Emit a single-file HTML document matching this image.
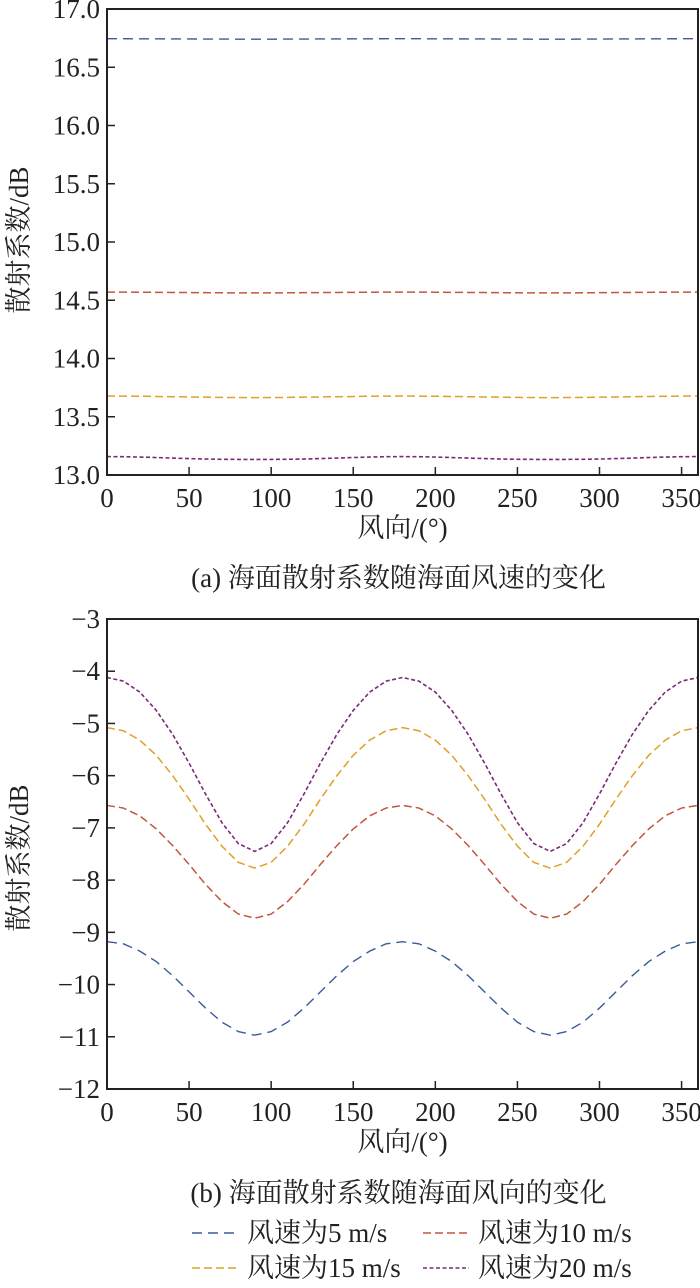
<!DOCTYPE html>
<html><head><meta charset="utf-8">
<style>
html,body{margin:0;padding:0;background:#fff;}
svg text{font-family:"Liberation Serif","Noto Serif CJK SC","Noto Sans CJK SC",serif;fill:#222;}
</style></head>
<body>
<svg id="chart" width="700" height="1283" xmlns="http://www.w3.org/2000/svg"></svg>
<script>
const angles = [0,10,20,30,40,50,60,70,80,90,100,110,120,130,140,150,160,170,180,190,200,210,220,230,240,250,260,270,280,290,300,310,320,330,340,350,360];
const topXTicks = [0,50,100,150,200,250,300,350];
const topYTicks = ["13.0","13.5","14.0","14.5","15.0","15.5","16.0","16.5","17.0"];
const botYTicks = [-12,-11,-10,-9,-8,-7,-6,-5,-4,-3];
const seriesNames = ["风速为5 m/s","风速为10 m/s","风速为15 m/s","风速为20 m/s"];
// (a) top chart values
const topS5  = [16.745,16.745,16.744,16.744,16.743,16.743,16.742,16.742,16.741,16.741,16.741,16.742,16.742,16.743,16.743,16.744,16.744,16.745,16.745,16.745,16.744,16.744,16.743,16.743,16.742,16.742,16.741,16.741,16.741,16.742,16.742,16.743,16.743,16.744,16.744,16.745,16.745];
const topS10 = [14.570,14.570,14.569,14.568,14.567,14.566,14.565,14.564,14.563,14.563,14.563,14.564,14.565,14.566,14.567,14.568,14.569,14.570,14.570,14.570,14.569,14.568,14.567,14.566,14.565,14.564,14.563,14.563,14.563,14.564,14.565,14.566,14.567,14.568,14.569,14.570,14.570];
const topS15 = [13.678,13.677,13.676,13.674,13.672,13.670,13.668,13.666,13.665,13.664,13.665,13.666,13.668,13.670,13.672,13.674,13.676,13.677,13.678,13.677,13.676,13.674,13.672,13.670,13.668,13.666,13.665,13.664,13.665,13.666,13.668,13.670,13.672,13.674,13.676,13.677,13.678];
const topS20 = [13.158,13.157,13.154,13.150,13.145,13.141,13.137,13.135,13.134,13.134,13.134,13.135,13.137,13.141,13.145,13.150,13.154,13.157,13.158,13.157,13.154,13.150,13.145,13.141,13.137,13.135,13.134,13.134,13.134,13.135,13.137,13.141,13.145,13.150,13.154,13.157,13.158];
// (b) bottom chart values
const botS5  = [-9.18,-9.22,-9.36,-9.56,-9.83,-10.14,-10.45,-10.72,-10.90,-10.97,-10.90,-10.72,-10.45,-10.14,-9.83,-9.56,-9.36,-9.22,-9.18,-9.22,-9.36,-9.56,-9.83,-10.14,-10.45,-10.72,-10.90,-10.97,-10.90,-10.72,-10.45,-10.14,-9.83,-9.56,-9.36,-9.22,-9.18];
const botS10 = [-6.57,-6.62,-6.77,-7.02,-7.34,-7.70,-8.08,-8.41,-8.65,-8.73,-8.65,-8.41,-8.08,-7.70,-7.34,-7.02,-6.77,-6.62,-6.57,-6.62,-6.77,-7.02,-7.34,-7.70,-8.08,-8.41,-8.65,-8.73,-8.65,-8.41,-8.08,-7.70,-7.34,-7.02,-6.77,-6.62,-6.57];
const botS15 = [-5.08,-5.14,-5.32,-5.61,-6.00,-6.45,-6.93,-7.35,-7.66,-7.77,-7.66,-7.35,-6.93,-6.45,-6.00,-5.61,-5.32,-5.14,-5.08,-5.14,-5.32,-5.61,-6.00,-6.45,-6.93,-7.35,-7.66,-7.77,-7.66,-7.35,-6.93,-6.45,-6.00,-5.61,-5.32,-5.14,-5.08];
const botS20 = [-4.12,-4.19,-4.40,-4.75,-5.21,-5.76,-6.35,-6.90,-7.30,-7.45,-7.30,-6.90,-6.35,-5.76,-5.21,-4.75,-4.40,-4.19,-4.12,-4.19,-4.40,-4.75,-5.21,-5.76,-6.35,-6.90,-7.30,-7.45,-7.30,-6.90,-6.35,-5.76,-5.21,-4.75,-4.40,-4.19,-4.12];

const NS="http://www.w3.org/2000/svg";
const svg=document.getElementById('chart');
function mk(tag,attrs,parent){const e=document.createElementNS(NS,tag);for(const k in attrs)e.setAttribute(k,attrs[k]);(parent||svg).appendChild(e);return e;}
const styles=[
 {c:"#3b5a9c",d:"10,6",w:1.4},
 {c:"#c0573c",d:"8,4",w:1.5},
 {c:"#e0a027",d:"8,4",w:1.5},
 {c:"#7a2a78",d:"4,2.5",w:1.6}
];
const FS=27;
const L=107,R=698;
function xS(v){return L+(v/360)*(R-L);}

function panel(top,bot,ymin,ymax,yTicks,series,prefix,caption,capY,ytitleY){
  const yS=v=>bot-(v-ymin)/(ymax-ymin)*(bot-top);
  const g=mk('g',{});
  
  
  series.forEach((s,i)=>{
    const d=s.map((v,j)=>(j?'L':'M')+xS(angles[j]).toFixed(2)+','+yS(v).toFixed(2)).join(' ');
    const p=mk('path',{d:d,fill:'none',stroke:styles[i].c,'stroke-width':styles[i].w,'stroke-dasharray':styles[i].d},g);
    
    
  });
  const fr=mk('rect',{x:L,y:top,width:R-L,height:bot-top,fill:'none',stroke:'#222','stroke-width':2},g);
  
  
  topXTicks.forEach(t=>{
    const x=xS(t);
    if(t>0) mk('line',{x1:x,x2:x,y1:bot,y2:bot-8,stroke:'#222','stroke-width':1.5},g);
    const tx=mk('text',{x:x,y:bot+32,'text-anchor':'middle','font-size':FS},g);
    tx.textContent=t;
    
    
  });
  yTicks.forEach(t=>{
    const y=yS(parseFloat(t));
    if(parseFloat(t)>ymin && parseFloat(t)<ymax) mk('line',{x1:L,x2:L+8,y1:y,y2:y,stroke:'#222','stroke-width':1.5},g);
    const tx=mk('text',{x:100,y:y+9,'text-anchor':'end','font-size':FS},g);
    tx.textContent=String(t).replace('-','\u2212');
    
    
  });
  const xt=mk('text',{x:(L+R)/2,y:bot+62,'text-anchor':'middle','font-size':FS},g);
  xt.textContent='风向/(°)';
  
  
  const yt=mk('text',{x:0,y:0,'text-anchor':'middle','font-size':FS,transform:'translate(28,'+ytitleY+') rotate(-90)'},g);
  yt.textContent='散射系数/dB';
  
  
  const cp=mk('text',{x:(L+R)/2-4,y:capY,'text-anchor':'middle','font-size':FS},g);
  cp.textContent=caption;
  
  
}
panel(9,475,13,17,topYTicks,[topS5,topS10,topS15,topS20],'top','(a) 海面散射系数随海面风速的变化',587,240);
panel(619,1089,-12,-3,botYTicks,[botS5,botS10,botS15,botS20],'bottom','(b) 海面散射系数随海面风向的变化',1202,858);

// legend
const legPos=[[192,1233],[423,1233],[192,1268],[423,1268]];
const lg=mk('g',{});


seriesNames.forEach((n,i)=>{
  const [x,y]=legPos[i];
  const ln=mk('line',{x1:x,x2:x+46,y1:y,y2:y,stroke:styles[i].c,'stroke-width':styles[i].w,'stroke-dasharray':styles[i].d},lg);
  
  
  const t=mk('text',{x:x+55,y:y+9,'font-size':FS},lg);
  t.textContent=n;
  
  
});
</script>
</body></html>
